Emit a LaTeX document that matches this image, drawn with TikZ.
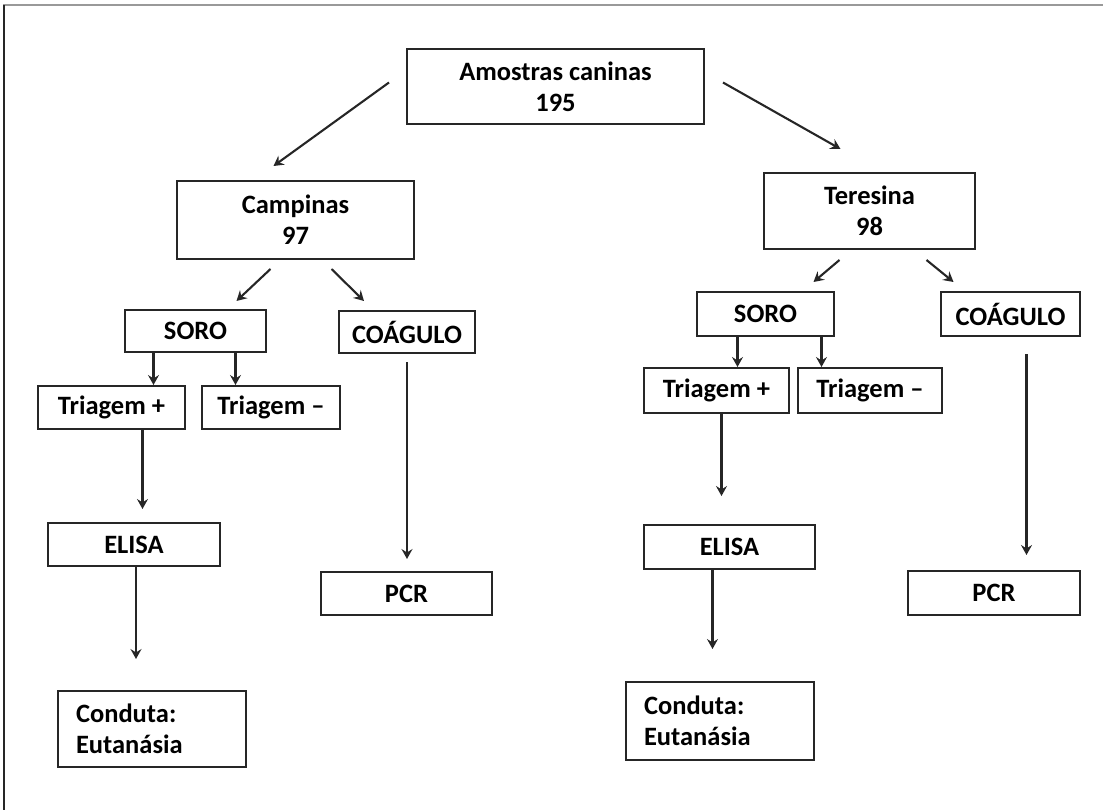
\documentclass[tikz,border=0pt]{standalone}
\usepackage{fontspec}
\setmainfont{Carlito}
\usetikzlibrary{arrows.meta}

\tikzset{
  box/.style={draw=black!85, line width=2pt, inner sep=0pt, align=center,
    font=\fontsize{26.5}{31}\selectfont\bfseries},
  notebox/.style={box, align=left, text width=152pt, inner xsep=18pt},
  arr/.style={-{Stealth[length=10pt, width=11pt, inset=3.5pt]}, line width=2.1pt, black!85}
}

\begin{document}
\begin{tikzpicture}[x=1pt, y=-1pt]
\useasboundingbox (0,0) rectangle (1103,810);
% frame
\draw[gray!80, line width=2.5pt] (3,5) -- (1103,5);
\draw[black!85, line width=1.5pt] (4,5) -- (4,810);

% boxes
\node[box, minimum width=297pt, minimum height=75pt] (top) at (555.5,86.5) {Amostras caninas\\195};
\node[box, minimum width=237pt, minimum height=78pt] (camp) at (295.5,220) {Campinas\\97};
\node[box, minimum width=211pt, minimum height=76pt] (tere) at (869.5,211) {Teresina\\98};

\node[box, minimum width=141pt, minimum height=42pt] (soroL) at (195.5,331) {SORO};
\node[box, minimum width=136pt, minimum height=42pt] (coagL) at (407,332) {COÁGULO};
\node[box, minimum width=147pt, minimum height=43pt] (tposL) at (111.5,407.5) {Triagem +};
\node[box, minimum width=138pt, minimum height=43pt] (tnegL) at (271,407.5) {Triagem –};
\node[box, minimum width=172pt, minimum height=43pt] (elisaL) at (134,544.5) {ELISA};
\node[box, minimum width=171pt, minimum height=43pt] (pcrL) at (406.5,593.5) {PCR};
\node[notebox, minimum height=76pt] (condL) at (152,729) {Conduta:\\Eutanásia};

\node[box, minimum width=137pt, minimum height=44pt] (soroR) at (765.5,314) {SORO};
\node[box, minimum width=139pt, minimum height=44pt] (coagR) at (1010.5,314) {COÁGULO};
\node[box, minimum width=145pt, minimum height=45pt] (tposR) at (716.5,390.5) {Triagem +};
\node[box, minimum width=144pt, minimum height=45pt] (tnegR) at (870,390.5) {Triagem –};
\node[box, minimum width=171pt, minimum height=44pt] (elisaR) at (729.5,547) {ELISA};
\node[box, minimum width=172pt, minimum height=44pt] (pcrR) at (994,593) {PCR};
\node[notebox, minimum height=78pt] (condR) at (720,721) {Conduta:\\Eutanásia};

% top level
\draw[arr] ([xshift=-17pt, yshift=4pt]top.west) -- ([xshift=-22pt, yshift=14pt]camp.north);
\draw[arr] ([xshift=18pt, yshift=4pt]top.east) -- ([xshift=-29pt, yshift=23pt]tere.north);

% Campinas
\draw[arr] ([xshift=-25pt, yshift=-9pt]camp.south) -- ([xshift=41pt, yshift=8pt]soroL.north);
\draw[arr] ([xshift=36pt, yshift=-9pt]camp.south) -- ([xshift=-43pt, yshift=9pt]coagL.north);
\draw[arr] ([xshift=-42pt]soroL.south) -- ([xshift=-42pt]soroL.south |- tposL.north);
\draw[arr] ([xshift=40pt]soroL.south) -- ([xshift=40pt]soroL.south |- tnegL.north);
\draw[arr, shorten >=13pt] ([xshift=31pt]tposL.south) -- ([xshift=31pt]tposL.south |- elisaL.north);
\draw[arr, shorten >=31pt] ([xshift=2pt]elisaL.south) -- ([xshift=2pt]elisaL.south |- condL.north);
\draw[arr, shorten <=8pt, shorten >=12pt] (coagL.south) -- (coagL.south |- pcrL.north);

% Teresina
\draw[arr] ([xshift=-30pt, yshift=-10pt]tere.south) -- ([xshift=48pt, yshift=9pt]soroR.north);
\draw[arr] ([xshift=57pt, yshift=-10pt]tere.south) -- ([xshift=-57pt, yshift=9pt]coagR.north);
\draw[arr] ([xshift=-28pt]soroR.south) -- ([xshift=-28pt]soroR.south |- tposR.north);
\draw[arr] ([xshift=56pt]soroR.south) -- ([xshift=56pt]soroR.south |- tnegR.north);
\draw[arr, shorten >=28pt] ([xshift=5pt]tposR.south) -- ([xshift=5pt]tposR.south |- elisaR.north);
\draw[arr, shorten >=32pt] ([xshift=-17pt]elisaR.south) -- ([xshift=-17pt]elisaR.south |- condR.north);
\draw[arr, shorten <=17pt, shorten >=15pt] ([xshift=16pt]coagR.south) -- ([xshift=16pt]coagR.south |- pcrR.north);
\end{tikzpicture}
\end{document}
